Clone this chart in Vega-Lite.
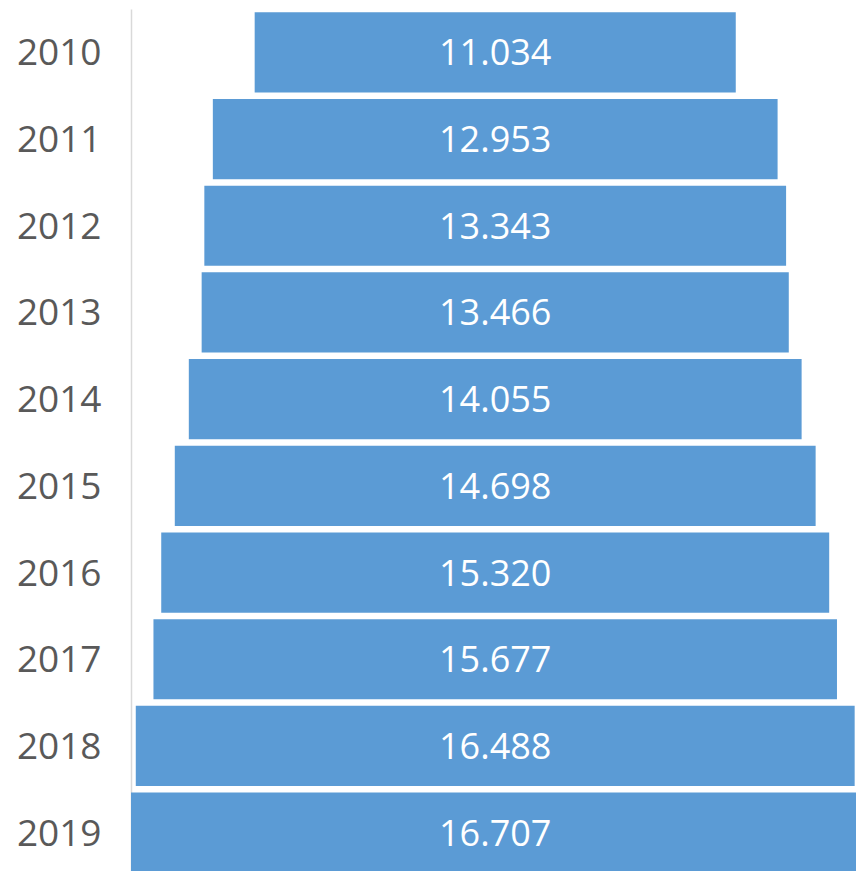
{
  "$schema": "https://vega.github.io/schema/vega-lite/v6.json",
  "width": 729,
  "height": 867,
  "autosize": {"type": "none"},
  "padding": {"left": 131, "top": 9, "right": 0, "bottom": 0},
  "background": "white",
  "config": {"view": {"stroke": null}},
  "data": {
    "values": [
      {"year": "2010", "value": 11.034, "label": "11.034"},
      {"year": "2011", "value": 12.953, "label": "12.953"},
      {"year": "2012", "value": 13.343, "label": "13.343"},
      {"year": "2013", "value": 13.466, "label": "13.466"},
      {"year": "2014", "value": 14.055, "label": "14.055"},
      {"year": "2015", "value": 14.698, "label": "14.698"},
      {"year": "2016", "value": 15.32, "label": "15.320"},
      {"year": "2017", "value": 15.677, "label": "15.677"},
      {"year": "2018", "value": 16.488, "label": "16.488"},
      {"year": "2019", "value": 16.707, "label": "16.707"}
    ]
  },
  "encoding": {
    "y": {
      "field": "year",
      "type": "nominal",
      "sort": null,
      "scale": {"paddingInner": 0.075, "paddingOuter": 0.0375},
      "axis": {
        "title": null,
        "ticks": false,
        "domainColor": "#d9d9d9",
        "domainWidth": 1.5,
        "labelFont": "Open Sans",
        "labelFontSize": 37,
        "labelColor": "#595959",
        "labelPadding": 30,
        "labelOffset": 2
      }
    }
  },
  "layer": [
    {
      "mark": {"type": "bar", "color": "#5b9bd5"},
      "encoding": {
        "x": {
          "field": "value",
          "type": "quantitative",
          "stack": "center",
          "scale": {"domain": [0, 16.72], "nice": false, "zero": false},
          "axis": null
        }
      }
    },
    {
      "mark": {
        "type": "text",
        "color": "white",
        "font": "Open Sans",
        "fontSize": 36,
        "baseline": "middle",
        "align": "center",
        "dy": 2
      },
      "encoding": {
        "x": {"datum": 8.3535, "type": "quantitative"},
        "text": {"field": "label"}
      }
    }
  ]
}
